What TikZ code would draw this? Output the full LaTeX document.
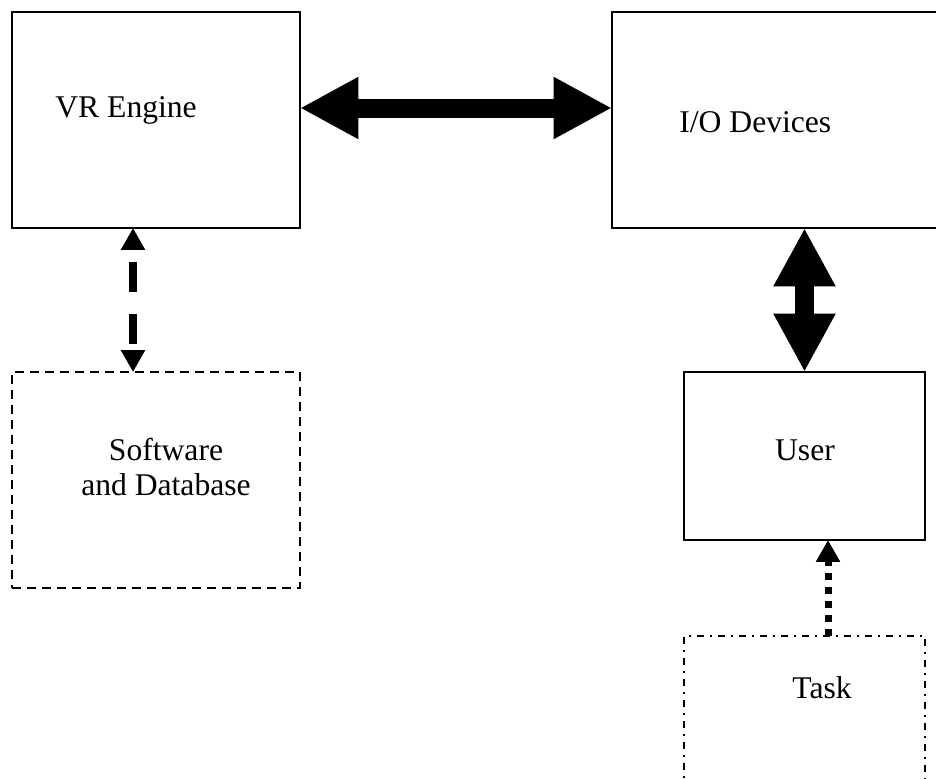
\documentclass[tikz,border=0pt]{standalone}
\usepackage{fontspec}
\setmainfont{Liberation Serif}
\usetikzlibrary{arrows.meta}

\begin{document}
\begin{tikzpicture}[line join=miter,x=0.02cm,y=-0.02cm,
    box/.style={draw,line width=1.1pt,inner sep=0pt,outer sep=0pt},
    lbl/.style={font=\fontsize{18pt}{20pt}\selectfont,inner sep=0pt},
    fat/.style={line width=0.38cm,{Triangle[length=1.17cm,width=1.16cm]}-{Triangle[length=1.17cm,width=1.16cm]}},
    dashlink/.style={line width=0.16cm,dash pattern=on 0.6cm off 0.44cm,dash phase=0.78cm,{Triangle[length=0.44cm,width=0.46cm]}-{Triangle[length=0.44cm,width=0.46cm]}},
    dotlink/.style={line width=0.14cm,dash pattern=on 0.14cm off 0.14cm,-{Triangle[length=0.44cm,width=0.46cm]}}]
    \useasboundingbox (0,0) rectangle (936,778);
    \clip (0,0) rectangle (936,778);
    \node[box,minimum width=5.76cm,minimum height=4.32cm] (vr) at (156,120) {};
    \node[box,minimum width=6.8cm,minimum height=4.32cm] (io) at (782,120) {};
    \node[box,dash pattern=on 0.18cm off 0.12cm,minimum width=5.76cm,minimum height=4.32cm] (sw) at (156,480) {};
    \node[box,minimum width=4.82cm,minimum height=3.36cm] (user) at (804.5,456) {};
    \node[box,dash pattern=on 0.14cm off 0.12cm on 0.04cm off 0.12cm,minimum width=4.82cm,minimum height=3.36cm] (task) at (804.5,720) {};
    \node[lbl,anchor=base west] (vrtxt) at (55,117) {VR Engine};
    \node[lbl,anchor=base west] (iotxt) at (679,132) {I/O Devices};
    \node[lbl,align=center] (swtxt) at (166,467) {Software\\and Database};
    \node[lbl,anchor=base] (usertxt) at (805,460) {User};
    \node[lbl,anchor=base] (tasktxt) at (822,698) {Task};
    \draw[fat] ([yshift=0.24cm]vr.east) -- ([yshift=0.24cm]io.west);
    \draw[fat] (user.north |- io.south) -- (user.north);
    \draw[dashlink] ([xshift=-0.46cm]vr.south) -- ([xshift=-0.46cm]sw.north);
    \draw[dotlink] ([xshift=0.47cm]task.north) -- ([xshift=0.47cm]user.south);
\end{tikzpicture}
\end{document}
